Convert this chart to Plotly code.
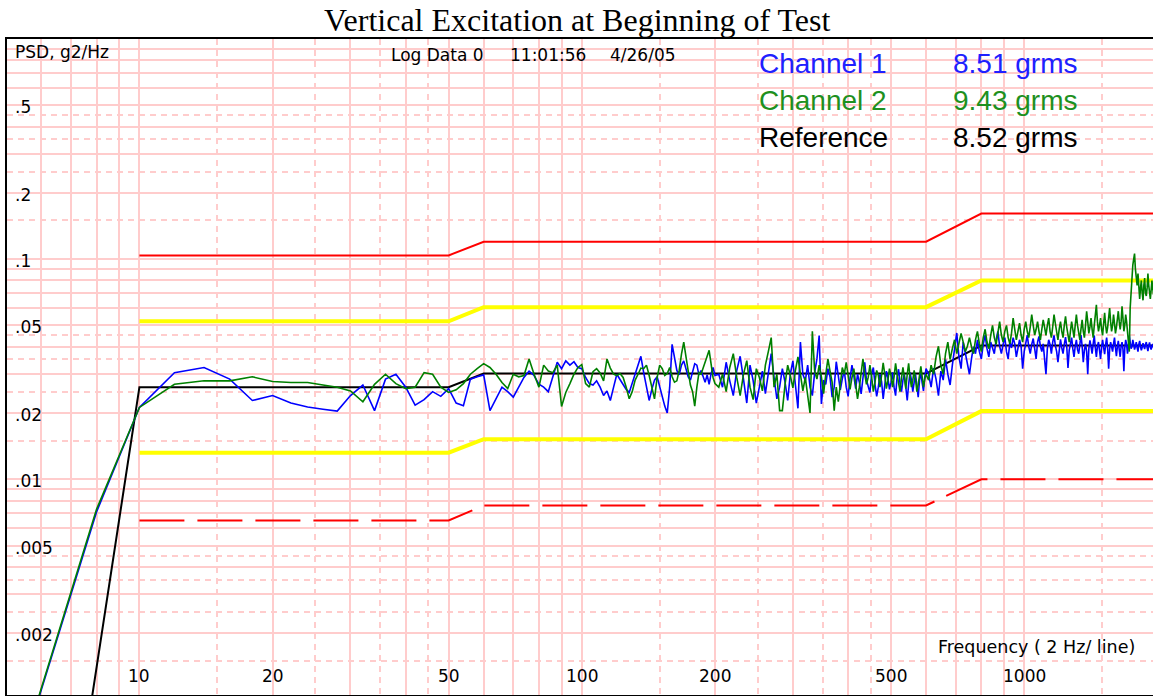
import numpy as np
import plotly.graph_objects as go

# ---------------- data ----------------
title_text = "Vertical Excitation at Beginning of Test"

# Reference profile (Hz, g^2/Hz)
ref_freq = [7.4, 9.85, 10, 50, 60, 600, 800, 2000]
ref_psd = [0.0005, 0.0208, 0.0262, 0.0262, 0.0302, 0.0302, 0.0405, 0.0405]

# Alarm / abort limits
limit_freq = [10, 50, 60, 600, 800, 2000]
upper_abort = [0.104, 0.104, 0.120, 0.120, 0.161, 0.161]
upper_alarm = [0.0522, 0.0522, 0.0605, 0.0605, 0.080, 0.080]
lower_alarm = [0.0132, 0.0132, 0.0152, 0.0152, 0.0204, 0.0204]
lower_abort = [0.0065, 0.0065, 0.0076, 0.0076, 0.0100, 0.0100]

# Analysis lines (Hz)
freq_low = [4, 6, 8]
freq_b = list(range(10, 201, 2))
freq_c = list(range(204, 601, 4))
freq_d = list(range(608, 2001, 8))

# Channel PSD values in units of 1e-4 g^2/Hz
ch1_low = [0.8, 11.1, 71]
ch2_low = [0.8, 11.3, 73]

ch1_b = [212, 305, 322, 285, 228, 240, 222, 213, 208, 204,
         240, 268, 205, 285, 300, 262, 217, 230, 250, 238,
         258, 222, 216, 285, 292, 298, 205, 232, 262, 250,
         236, 262, 290, 310, 296, 270, 262, 250, 292, 340,
         318, 345, 330, 342, 322, 318, 290, 272, 268, 280,
         262, 240, 252, 228, 262, 300, 284, 270, 256, 248,
         272, 300, 332, 362, 305, 262, 228, 256, 282, 292,
         262, 238, 215, 200, 262, 410, 352, 312, 298, 330,
         345, 318, 292, 282, 305, 335, 330, 298, 312, 290,
         276, 298, 270, 302, 322, 296]
ch2_b = [212, 270, 280, 280, 292, 278, 275, 275, 268, 262,
         252, 225, 270, 300, 272, 258, 262, 305, 300, 262,
         248, 255, 272, 300, 318, 335, 322, 300, 275, 258,
         300, 292, 296, 352, 300, 262, 330, 310, 305, 330,
         214, 248, 272, 300, 322, 332, 272, 262, 308, 318,
         304, 280, 352, 320, 300, 296, 302, 290, 262, 232,
         250, 282, 300, 320, 318, 330, 296, 262, 232, 290,
         330, 318, 296, 302, 322, 292, 276, 280, 312, 370,
         420, 360, 310, 268, 250, 215, 262, 305, 300, 322,
         340, 362, 385, 330, 290, 272]

ch1_c = [300, 262, 340, 280, 240, 312, 362, 285, 222, 330,
         280, 222, 268, 310, 245, 300, 372, 290, 232, 262,
         318, 276, 228, 300, 345, 268, 210, 420, 300, 280,
         330, 262, 240, 305, 352, 450, 220, 282, 270, 318,
         292, 236, 262, 342, 300, 255, 286, 312, 262, 238,
         288, 330, 295, 258, 300, 276, 244, 292, 340, 282,
         262, 248, 300, 322, 270, 238, 262, 300, 278, 232,
         268, 310, 288, 256, 276, 306, 262, 240, 290, 316,
         272, 250, 282, 300, 262, 228, 270, 306, 282, 250,
         276, 300, 265, 236, 282, 305, 274, 252, 290, 318]
ch2_c = [262, 300, 250, 322, 372, 290, 240, 300, 346, 262,
         230, 318, 290, 252, 330, 380, 440, 262, 300, 205,
         205, 270, 330, 296, 260, 312, 360, 300, 252, 290,
         240, 200, 470, 310, 285, 330, 292, 245, 300, 352,
         310, 276, 205, 262, 225, 276, 322, 300, 340, 296,
         256, 290, 318, 270, 232, 262, 306, 352, 300, 270,
         290, 330, 292, 250, 276, 312, 296, 262, 296, 338,
         300, 258, 282, 318, 295, 262, 292, 336, 300, 270,
         250, 288, 322, 290, 258, 300, 336, 290, 262, 282,
         312, 286, 250, 270, 300, 326, 292, 262, 286, 300]

ch1_d = [300, 262, 320, 285, 240, 310, 282, 350, 300, 268,
         330, 390, 462, 360, 318, 420, 372, 330, 300, 352,
         400, 372, 430, 380, 352, 410, 452, 392, 360, 420,
         396, 372, 430, 470, 402, 372, 410, 440, 380, 352,
         420, 395, 440, 412, 360, 392, 430, 402, 318, 380,
         420, 452, 400, 372, 410, 436, 392, 352, 420, 446,
         402, 380, 412, 360, 300, 392, 430, 410, 372, 420,
         450, 406, 380, 340, 402, 432, 395, 372, 410, 442,
         400, 320, 386, 420, 440, 392, 360, 402, 430, 388,
         372, 410, 452, 402, 340, 386, 412, 380, 300, 392,
         428, 400, 372, 412, 450, 396, 360, 402, 420, 385,
         352, 400, 430, 396, 370, 410, 440, 392, 318, 390,
         420, 400, 380, 412, 440, 396, 362, 400, 425, 388,
         360, 402, 420, 390, 310, 396, 430, 410, 372, 400,
         450, 420, 392, 400, 430, 410, 388, 402, 420, 396,
         380, 410, 425, 400, 385, 398, 415, 402, 390, 410,
         420, 396, 382, 405, 418, 400, 388, 402, 412, 398,
         390, 405, 410, 396, 400]
ch2_d = [282, 330, 300, 360, 402, 330, 300, 372, 420, 350,
         392, 430, 372, 410, 460, 420, 380, 402, 440, 400,
         372, 430, 470, 412, 380, 440, 480, 420, 392, 450,
         500, 440, 410, 462, 520, 452, 420, 470, 500, 440,
         412, 460, 540, 480, 430, 470, 512, 452, 420, 480,
         520, 470, 440, 492, 560, 500, 452, 480, 520, 470,
         430, 480, 530, 490, 450, 500, 540, 470, 440, 492,
         560, 510, 460, 430, 482, 520, 470, 440, 500, 550,
         490, 452, 420, 470, 520, 480, 440, 500, 560, 500,
         460, 430, 482, 530, 470, 440, 500, 580, 520, 460,
         492, 540, 480, 440, 500, 560, 620, 520, 470, 500,
         540, 480, 450, 510, 570, 500, 460, 490, 540, 600,
         520, 470, 500, 560, 510, 460, 490, 530, 580, 520,
         480, 520, 610, 540, 470, 500, 560, 520, 450, 420,
         380, 600, 720, 860, 940, 1000, 1060, 900, 800, 760,
         860, 720, 660, 740, 800, 700, 650, 760, 820, 700,
         680, 740, 860, 760, 700, 660, 720, 800, 740, 690,
         720, 780, 700, 740, 760]

legend_names = ["Channel 1", "Channel 2", "Reference"]
legend_rms = ["8.51 grms", "9.43 grms", "8.52 grms"]
header_texts = ["Log Data 0", "11:01:56", "4/26/05"]
y_label_text = "PSD, g2/Hz"
x_label_text = "Frequency ( 2 Hz/ line)"

y_tick_vals = [0.5, 0.2, 0.1, 0.05, 0.02, 0.01, 0.005, 0.002]
y_tick_text = [".5", ".2", ".1", ".05", ".02", ".01", ".005", ".002"]
x_tick_vals = [10, 20, 50, 100, 200, 500, 1000]
x_tick_text = ["10", "20", "50", "100", "200", "500", "1000"]

# ---------------- assemble ----------------
ch_freq = np.array(freq_low + freq_b + freq_c + freq_d, dtype=float)
ch1 = np.array(ch1_low + ch1_b + ch1_c + ch1_d, dtype=float) * 1e-4
ch2 = np.array(ch2_low + ch2_b + ch2_c + ch2_d, dtype=float) * 1e-4
assert len(ch1) == len(ch_freq) == len(ch2), (len(ch1), len(ch2), len(ch_freq))

W, H = 1153, 696
L, R, T, B = 7, 1153, 39, 695
X_MIN, X_MAX = 5.02, 1955.0
Y_MIN, Y_MAX = 0.001047, 1.0

GRID = "#FFCCCC"
BLUE = "#0000FF"
GREEN = "#008000"
SANS = "Liberation Sans, Arial, sans-serif"
SMALL = "DejaVu Sans, Verdana, sans-serif"
SERIF = "Liberation Serif, Times New Roman, serif"


def px_x(px):
    return (px - L) / (R - L)


def px_y(py):
    return (B - py) / (B - T)


fig = go.Figure()

fig.add_trace(go.Scatter(x=limit_freq, y=upper_abort, mode="lines",
                         line=dict(color="#FF0000", width=2), hoverinfo="skip"))
fig.add_trace(go.Scatter(x=limit_freq, y=upper_alarm, mode="lines",
                         line=dict(color="#FFFF00", width=4), hoverinfo="skip"))
fig.add_trace(go.Scatter(x=limit_freq, y=lower_alarm, mode="lines",
                         line=dict(color="#FFFF00", width=4), hoverinfo="skip"))
fig.add_trace(go.Scatter(x=limit_freq, y=lower_abort, mode="lines",
                         line=dict(color="#FF0000", width=2, dash="45px,13px"),
                         hoverinfo="skip"))
fig.add_trace(go.Scatter(x=ref_freq, y=ref_psd, mode="lines",
                         line=dict(color="#000000", width=2), name="Reference"))
fig.add_trace(go.Scatter(x=ch_freq, y=ch1, mode="lines",
                         line=dict(color=BLUE, width=1.6), name="Channel 1"))
fig.add_trace(go.Scatter(x=ch_freq, y=ch2, mode="lines",
                         line=dict(color=GREEN, width=1.6), name="Channel 2"))

# grid: solid at 1..9 x decade, dashed at 1.5, 2.5, 3.5, 4.5 x decade
x_major = [m * d for d in (1, 10, 100, 1000) for m in range(1, 10) if 5 < m * d <= 2000]
x_minor = [m * d for d in (10, 100, 1000) for m in (1.5, 2.5, 3.5, 4.5) if m * d <= 2000]
y_major = [m * d for d in (0.001, 0.01, 0.1) for m in range(1, 10)] + [1.0]
y_minor = [m * d for d in (0.001, 0.01, 0.1) for m in (1.5, 2.5, 3.5, 4.5)]

fig.update_xaxes(type="log", range=[np.log10(X_MIN), np.log10(X_MAX)],
                 tickmode="array", tickvals=x_major, showticklabels=False, ticks="",
                 showgrid=True, gridcolor=GRID, gridwidth=2,
                 minor=dict(tickmode="array", tickvals=x_minor, showgrid=True,
                            gridcolor=GRID, gridwidth=2, griddash="6px,5px", ticks=""),
                 showline=True, linecolor="#000000", linewidth=2, mirror=True,
                 zeroline=False)
fig.update_yaxes(type="log", range=[np.log10(Y_MIN), np.log10(Y_MAX)],
                 tickmode="array", tickvals=y_major, showticklabels=False, ticks="",
                 showgrid=True, gridcolor=GRID, gridwidth=2,
                 minor=dict(tickmode="array", tickvals=y_minor, showgrid=True,
                            gridcolor=GRID, gridwidth=2, griddash="6px,5px", ticks=""),
                 showline=True, linecolor="#000000", linewidth=2, mirror=False,
                 zeroline=False)

ann = []
# title
ann.append(dict(text=title_text, xref="paper", yref="paper",
                x=px_x(577), y=px_y(20), xanchor="center", yanchor="middle",
                showarrow=False, font=dict(family=SERIF, size=32, color="#000000")))
# y label
ann.append(dict(text=y_label_text, xref="paper", yref="paper",
                x=px_x(13), y=px_y(52), xanchor="left", yanchor="middle",
                showarrow=False, font=dict(family=SMALL, size=17, color="#000000")))
# header
for txt, xpx in zip(header_texts, [389, 508, 608]):
    ann.append(dict(text=txt, xref="paper", yref="paper",
                    x=px_x(xpx), y=px_y(55), xanchor="left", yanchor="middle",
                    showarrow=False, font=dict(family=SMALL, size=17, color="#000000")))
# legend-like text
leg_colors = ["#2020FF", "#1E901E", "#000000"]
for i, (nm, rms, col) in enumerate(zip(legend_names, legend_rms, leg_colors)):
    ypx = 63 + i * 37.5
    ann.append(dict(text=nm, xref="paper", yref="paper",
                    x=px_x(757), y=px_y(ypx), xanchor="left", yanchor="middle",
                    showarrow=False, font=dict(family=SANS, size=28, color=col)))
    ann.append(dict(text=rms, xref="paper", yref="paper",
                    x=px_x(951), y=px_y(ypx), xanchor="left", yanchor="middle",
                    showarrow=False, font=dict(family=SANS, size=28, color=col)))
# x axis label
ann.append(dict(text=x_label_text, xref="paper", yref="paper",
                x=px_x(936), y=px_y(647), xanchor="left", yanchor="middle",
                showarrow=False, font=dict(family=SMALL, size=17.5, color="#000000")))
# tick labels
for v, t in zip(y_tick_vals, y_tick_text):
    ann.append(dict(text=t, xref="paper", yref="y",
                    x=px_x(13), y=np.log10(v), yshift=-2, xanchor="left", yanchor="middle",
                    showarrow=False, font=dict(family=SMALL, size=17, color="#000000")))
for v, t in zip(x_tick_vals, x_tick_text):
    ann.append(dict(text=t, xref="x", yref="paper",
                    x=np.log10(v), y=px_y(676), xanchor="center", yanchor="middle",
                    showarrow=False, font=dict(family=SMALL, size=17, color="#000000")))

fig.update_layout(width=W, height=H, autosize=False,
                  margin=dict(l=L, r=W - R, t=T, b=H - B, pad=0),
                  paper_bgcolor="#FFFFFF", plot_bgcolor="#FFFFFF",
                  showlegend=False, annotations=ann)

fig.write_html("out.html", config={"displayModeBar": False},
               post_script="document.body.style.margin='0';document.body.style.overflow='hidden';")
